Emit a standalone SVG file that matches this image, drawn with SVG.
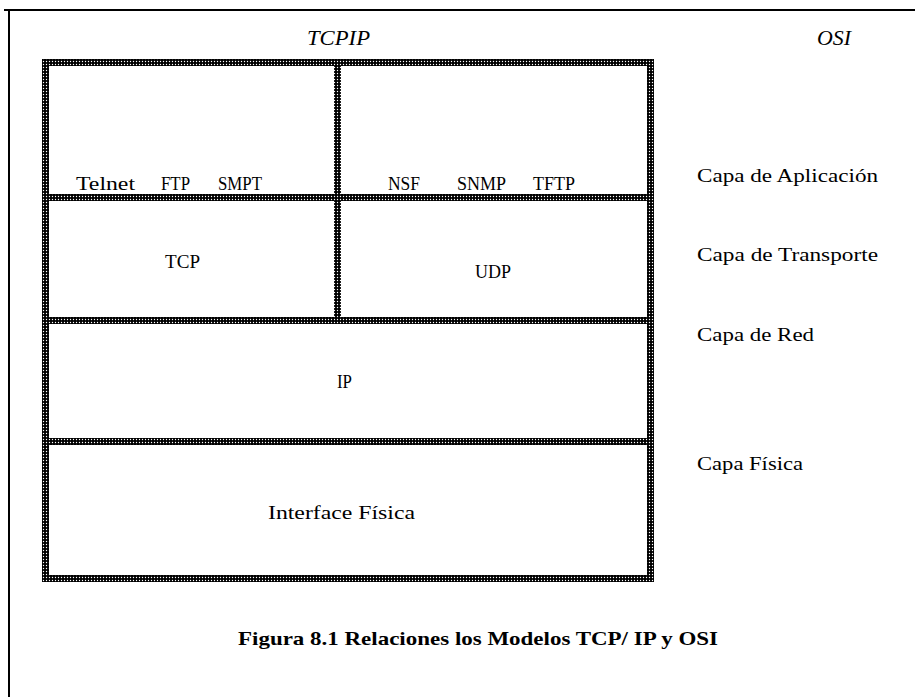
<svg xmlns="http://www.w3.org/2000/svg" width="915" height="697" viewBox="0 0 915 697">
<defs>
<pattern id="chk" width="3" height="3" patternUnits="userSpaceOnUse">
<rect width="3" height="3" fill="#000"/>
<circle cx="1.5" cy="1.5" r="0.7" fill="#fff"/>
</pattern>
</defs>
<style>
text{font-family:"Liberation Serif","DejaVu Serif",serif;fill:#000}
.t{font-size:19px}
.h{font-size:22px;font-style:italic}
.c{font-size:19px;font-weight:bold}
.hb{fill:url(#chk)}
</style>
<rect width="915" height="697" fill="#fff"/>
<g id="frame">
<line x1="4" y1="10" x2="915" y2="10" stroke="#000" stroke-width="2"/>
<line x1="9" y1="10" x2="9" y2="697" stroke="#000" stroke-width="2"/>
</g>
<g id="headers">
<text class="h" x="307" y="45" textLength="63" lengthAdjust="spacingAndGlyphs">TCPIP</text>
<text class="h" x="817" y="45" textLength="34" lengthAdjust="spacingAndGlyphs">OSI</text>
</g>
<g id="grid">
<rect class="hb" x="42" y="59" width="612" height="7"/>
<rect class="hb" x="42" y="194" width="612" height="7"/>
<rect class="hb" x="42" y="317" width="612" height="7"/>
<rect class="hb" x="42" y="438" width="612" height="7"/>
<rect class="hb" x="42" y="575" width="612" height="7"/>
<rect class="hb" x="42" y="59" width="7" height="523"/>
<rect class="hb" x="647" y="59" width="7" height="523"/>
<rect class="hb" x="334" y="59" width="7" height="265"/>
</g>
<g id="app-left">
<text class="t" x="76" y="190" textLength="59" lengthAdjust="spacingAndGlyphs">Telnet</text>
<text class="t" x="161" y="190" textLength="29" lengthAdjust="spacingAndGlyphs">FTP</text>
<text class="t" x="218" y="190" textLength="44" lengthAdjust="spacingAndGlyphs">SMPT</text>
</g>
<g id="app-right">
<text class="t" x="388" y="190" textLength="32" lengthAdjust="spacingAndGlyphs">NSF</text>
<text class="t" x="457" y="190" textLength="49" lengthAdjust="spacingAndGlyphs">SNMP</text>
<text class="t" x="533" y="190" textLength="42" lengthAdjust="spacingAndGlyphs">TFTP</text>
</g>
<g id="tcp"><text class="t" x="165" y="268" textLength="35" lengthAdjust="spacingAndGlyphs">TCP</text></g>
<g id="udp"><text class="t" x="475" y="278" textLength="36" lengthAdjust="spacingAndGlyphs">UDP</text></g>
<g id="ip"><text class="t" x="337" y="388" textLength="15" lengthAdjust="spacingAndGlyphs">IP</text></g>
<g id="fisica"><text class="t" x="268" y="519" textLength="147" lengthAdjust="spacingAndGlyphs">Interface Física</text></g>
<g id="osi">
<text class="t" x="697" y="182" textLength="181" lengthAdjust="spacingAndGlyphs">Capa de Aplicación</text>
<text class="t" x="697" y="261" textLength="181" lengthAdjust="spacingAndGlyphs">Capa de Transporte</text>
<text class="t" x="697" y="341" textLength="117" lengthAdjust="spacingAndGlyphs">Capa de Red</text>
<text class="t" x="697" y="470" textLength="106" lengthAdjust="spacingAndGlyphs">Capa Física</text>
</g>
<g id="caption"><text class="c" x="238" y="645" textLength="480" lengthAdjust="spacingAndGlyphs">Figura 8.1  Relaciones los Modelos TCP/ IP y OSI</text></g>
<g id="connectors"/>
</svg>
